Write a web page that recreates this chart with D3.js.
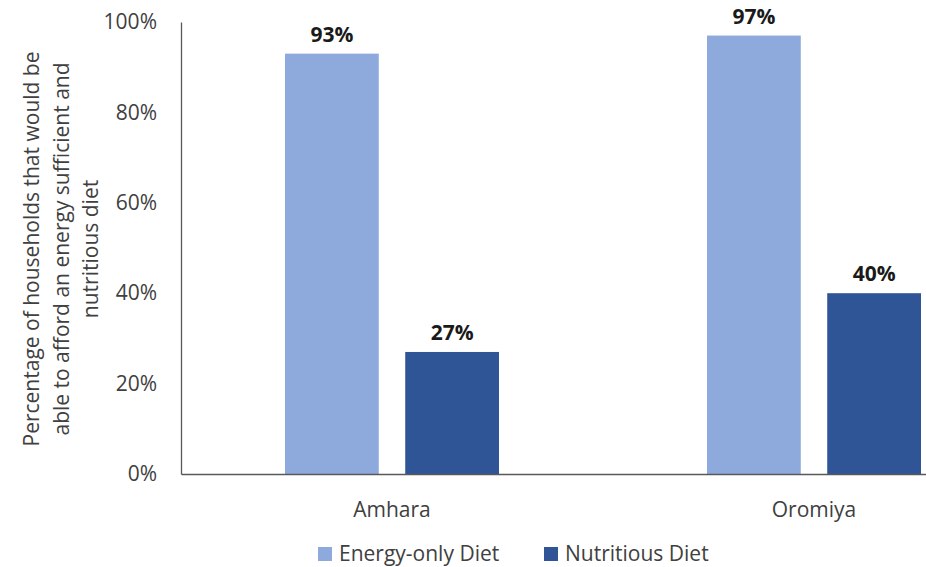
<!DOCTYPE html>
<html>
<head>
<meta charset="utf-8">
<script src="https://cdn.jsdelivr.net/npm/d3@7"></script>
<style>
  html, body { margin: 0; padding: 0; background: #fff; }
  svg { display: block; font-family: "Open Sans", sans-serif; }
</style>
</head>
<body>
<svg id="chart" width="926" height="567"></svg>
<script>
// Regions compared
const regions = ["Amhara", "Oromiya"];
// Series: share of households able to afford each diet
const seriesNames = ["Energy-only Diet", "Nutritious Diet"];
const energyOnly = [0.93, 0.97];
const nutritious = [0.27, 0.40];
const yTicks = [0, 0.2, 0.4, 0.6, 0.8, 1.0];
const colors = ["#8EA9DB", "#2F5597"];
const yLabelLines = [
  "Percentage of households that would be",
  "able to afford an energy sufficient and",
  "nutritious diet"
];

const values = [energyOnly, nutritious];
const rows = regions.map((r, i) => ({
  region: r,
  items: seriesNames.map((s, k) => ({ series: s, value: values[k][i] }))
}));

const svg = d3.select("#chart");
const plotLeft = 181, plotTop = 22, plotBottom = 474;
const step = 422;

const x0 = d3.scaleBand()
  .domain(regions)
  .range([plotLeft, plotLeft + step * regions.length])
  .paddingInner(0)
  .paddingOuter(0);

const x1 = d3.scaleBand()
  .domain(seriesNames)
  .range([104, step - 104])
  .paddingInner(0.22);

const y = d3.scaleLinear().domain([0, 1]).range([plotBottom, plotTop]);

const color = d3.scaleOrdinal().domain(seriesNames).range(colors);

// Bars
const groups = svg.append("g").selectAll("g")
  .data(rows).join("g")
  .attr("transform", d => `translate(${x0(d.region)},0)`);

groups.selectAll("rect")
  .data(d => d.items).join("rect")
  .attr("x", d => x1(d.series))
  .attr("width", x1.bandwidth())
  .attr("y", d => y(d.value))
  .attr("height", d => y(0) - y(d.value))
  .attr("fill", d => color(d.series));

// Value labels
groups.selectAll("text.val")
  .data(d => d.items).join("text")
  .attr("class", "val")
  .attr("x", d => x1(d.series) + x1.bandwidth() / 2)
  .attr("y", d => y(d.value) - 12)
  .attr("text-anchor", "middle")
  .attr("font-size", 21)
  .attr("font-weight", 700)
  .attr("fill", "#1a1a1a")
  .text(d => d3.format(".0%")(d.value));

// Y axis
const yAxis = svg.append("g")
  .attr("transform", `translate(${plotLeft},0)`)
  .call(d3.axisLeft(y).tickValues(yTicks).tickFormat(d3.format(".0%")).tickSize(0).tickPadding(24));
yAxis.select(".domain").attr("stroke", "#595959").attr("stroke-width", 1.3);
yAxis.selectAll("text").attr("font-size", 21).attr("fill", "#404040").attr("font-family", "Open Sans, sans-serif");

// X axis
const xAxis = svg.append("g")
  .attr("transform", `translate(0,${plotBottom})`)
  .call(d3.axisBottom(x0).tickSize(0).tickPadding(28));
xAxis.select(".domain").attr("stroke", "#595959").attr("stroke-width", 1.3);
xAxis.selectAll("text").attr("font-size", 21).attr("fill", "#404040").attr("font-family", "Open Sans, sans-serif");

// Y axis title
const yTitle = svg.append("text")
  .attr("transform", "translate(0,249) rotate(-90)")
  .attr("text-anchor", "middle")
  .attr("font-size", 21)
  .attr("fill", "#404040");
yTitle.selectAll("tspan")
  .data(yLabelLines).join("tspan")
  .attr("x", 0)
  .attr("y", (d, i) => 39 + i * 29.5)
  .text(d => d);

// Legend
const legendItems = [
  { name: seriesNames[0], x: 318 },
  { name: seriesNames[1], x: 544 }
];
const legend = svg.append("g").selectAll("g")
  .data(legendItems).join("g")
  .attr("transform", d => `translate(${d.x},547)`);
legend.append("rect")
  .attr("width", 14).attr("height", 14)
  .attr("fill", d => color(d.name));
legend.append("text")
  .attr("x", 21).attr("y", 14)
  .attr("font-size", 21)
  .attr("fill", "#404040")
  .text(d => d.name);
</script>
</body>
</html>
